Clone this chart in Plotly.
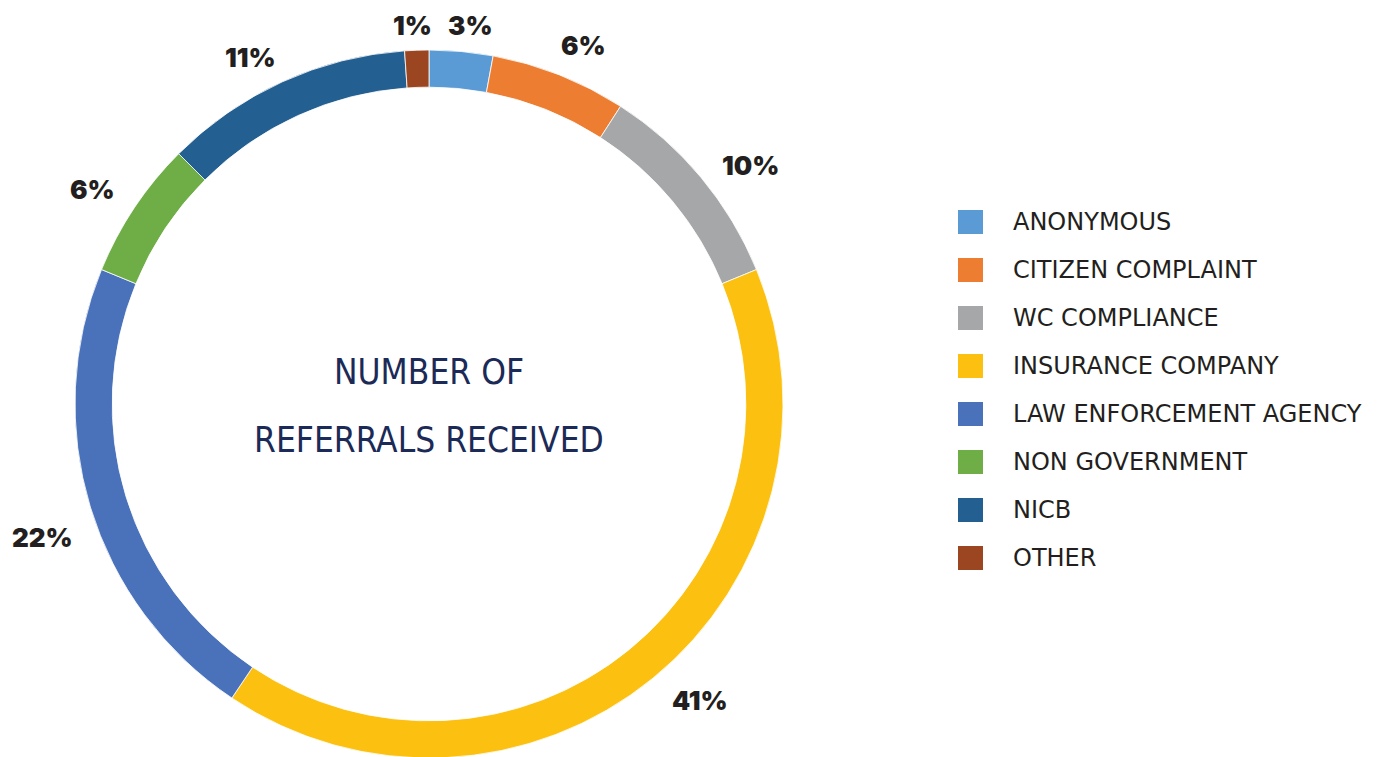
import plotly.graph_objects as go

W, H = 1398, 757
OFF = 8  # page body margin offset

categories = ["ANONYMOUS", "CITIZEN COMPLAINT", "WC COMPLIANCE", "INSURANCE COMPANY",
              "LAW ENFORCEMENT AGENCY", "NON GOVERNMENT", "NICB", "OTHER"]
values = [2.9, 6.2, 9.7, 40.6, 21.8, 6.3, 11.4, 1.1]
pct_labels = ["3%", "6%", "10%", "41%", "22%", "6%", "11%", "1%"]
colors = ["#5b9bd5", "#ed7d31", "#a5a7a9", "#fcc010", "#4a72bb", "#6fad47", "#245f92", "#9b4620"]
center_lines = ["NUMBER OF", "REFERRALS RECEIVED"]

# label anchor positions in screen pixels (text placement only)
label_pos = [(470, 25), (583, 46), (750, 165), (700, 700), (42, 537), (92, 190), (250, 57), (412, 25)]

cx, cy, r_out = 429 - OFF, 404 - OFF, 354


def px(x):
    return (x - OFF) / W


def py(y):
    return 1 - (y - OFF) / H


fig = go.Figure()
fig.add_trace(go.Pie(
    labels=categories, values=values, sort=False, direction="clockwise", rotation=0,
    hole=0.895, marker=dict(colors=colors, line=dict(color="white", width=0.8)),
    textinfo="none", hoverinfo="label+percent", showlegend=False,
    domain=dict(x=[(cx - r_out) / W, (cx + r_out) / W],
                y=[1 - (cy + r_out) / H, 1 - (cy - r_out) / H]),
))

ann = []
for (x, y), t in zip(label_pos, pct_labels):
    ann.append(dict(x=px(x), y=py(y), xref="paper", yref="paper", text=t, showarrow=False,
                    xanchor="center", yanchor="middle", borderpad=0,
                    font=dict(family="Inter, Lato, sans-serif", size=26, color="#231f20", weight=900)))

for i, line in enumerate(center_lines):
    ann.append(dict(x=px(429), y=py(372 + i * 68), xref="paper", yref="paper", text=line,
                    showarrow=False, xanchor="center", yanchor="middle",
                    font=dict(family="Liberation Sans Narrow, DejaVu Sans Condensed, sans-serif",
                              size=35, color="#1b2a57")))

shapes = []
for i, (c, lab) in enumerate(zip(colors, categories)):
    yc = 222 + i * 48
    shapes.append(dict(type="rect", xref="paper", yref="paper",
                       x0=px(958), x1=px(983), y0=py(yc + 12), y1=py(yc - 12),
                       fillcolor=c, line=dict(width=0)))
    ann.append(dict(x=px(1011), y=py(yc), xref="paper", yref="paper", text=lab, showarrow=False,
                    xanchor="left", yanchor="middle",
                    font=dict(family="DejaVu Sans, sans-serif", size=24, color="#231f20")))

fig.update_layout(width=W, height=H, margin=dict(l=0, r=0, t=0, b=0),
                  paper_bgcolor="white", plot_bgcolor="white",
                  annotations=ann, shapes=shapes)
fig.write_html("out.html")
